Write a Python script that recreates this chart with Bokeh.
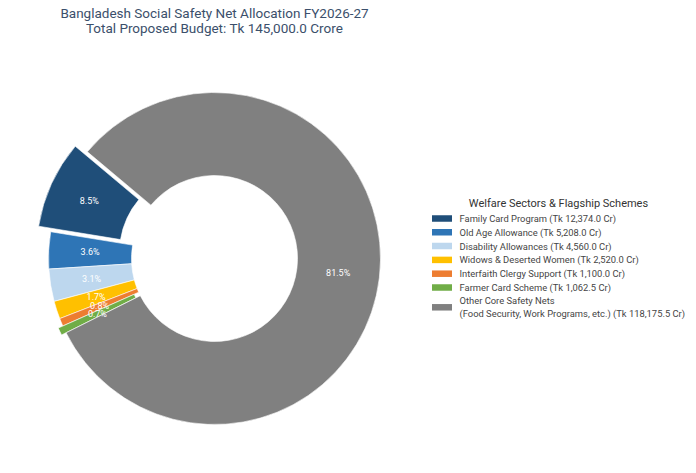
import numpy as np
from bokeh.plotting import figure
from bokeh.models import Range1d, ColumnDataSource
from bokeh.core.properties import value
from bokeh.embed import file_html
from bokeh.resources import INLINE

# Allocation data (Tk crore)
schemes = [
    "Family Card Program",
    "Old Age Allowance",
    "Disability Allowances",
    "Widows & Deserted Women",
    "Interfaith Clergy Support",
    "Farmer Card Scheme",
    "Other Core Safety Nets",
]
amounts = [12374.0, 5208.0, 4560.0, 2520.0, 1100.0, 1062.5, 118175.5]
colors = ["#1f4e79", "#2e75b6", "#bdd7ee", "#ffc000", "#ed7d31", "#70ad47", "#808080"]
other_note = "(Food Security, Work Programs, etc.)"

W, H = 696, 473
CX, CY = 214, H - 258          # donut centre
R_OUT, R_IN = 166, 83          # ring radii
START_DEG = 140                # first slice starts here, counter-clockwise
EXPLODE = [0.08, 0, 0, 0, 0, 0.03, 0]   # pull-out per slice (fraction of radius)
PCT_DIST = 0.75                # percentage label radius (fraction of radius)

font = value("Roboto")

p = figure(width=W, height=H, x_range=Range1d(0, W), y_range=Range1d(0, H),
           output_backend="svg", toolbar_location=None, min_border=0)
p.axis.visible = False
p.grid.visible = False
p.outline_line_color = None
p.background_fill_color = "white"

vals = np.array(amounts)
total = vals.sum()
frac = vals / total
cum = np.concatenate([[0], np.cumsum(frac)])
start = np.deg2rad(START_DEG + 360 * cum[:-1])
end = np.deg2rad(START_DEG + 360 * cum[1:])
mid = (start + end) / 2
pull = np.array(EXPLODE) * R_OUT
cx = CX + pull * np.cos(mid)
cy = CY + pull * np.sin(mid)

src = ColumnDataSource(dict(x=cx, y=cy, start=start, end=end, color=colors))
p.annular_wedge(x="x", y="y", inner_radius=R_IN, outer_radius=R_OUT,
                start_angle="start", end_angle="end", fill_color="color",
                line_color="white", line_width=0.6, source=src)

# percentage labels
lab = ColumnDataSource(dict(
    x=cx + PCT_DIST * R_OUT * np.cos(mid),
    y=cy + PCT_DIST * R_OUT * np.sin(mid),
    t=[f"{100 * f:.1f}%" for f in frac],
))
p.text(x="x", y="y", text="t", source=lab, text_color="white",
       text_font=font, text_font_size="9px", text_align="center",
       text_baseline="middle")

# title
p.text(x=[CX], y=[H - 12], text=["Bangladesh Social Safety Net Allocation FY2026-27"],
       text_font=font, text_font_size="13.5px", text_color="#3b4f6b",
       text_align="center", text_baseline="middle")
p.text(x=[CX], y=[H - 27], text=[f"Total Proposed Budget: Tk {total:,.1f} Crore"],
       text_font=font, text_font_size="13.5px", text_color="#3b4f6b",
       text_align="center", text_baseline="middle")

# legend
LX, LY0, LSTEP = 441.5, H - 218, 13.8
p.text(x=[558], y=[H - 203], text=["Welfare Sectors & Flagship Schemes"],
       text_font=font, text_font_size="11px", text_color="#333333",
       text_align="center", text_baseline="middle")
n = len(schemes)
row_y = [LY0 - i * LSTEP for i in range(n - 1)] + [LY0 - (n - 1) * LSTEP - 6]
p.rect(x=[LX] * n, y=row_y, width=20, height=6.5, fill_color=colors, line_color=None)
labels = [f"{s} (Tk {v:,.1f} Cr)" for s, v in zip(schemes[:-1], amounts[:-1])]
p.text(x=[459] * (n - 1), y=row_y[:-1], text=labels, text_font=font,
       text_font_size="9.4px", text_color="#454545", text_baseline="middle")
p.text(x=[459, 459], y=[row_y[-1] + 6.5, row_y[-1] - 6.5],
       text=[schemes[-1], f"{other_note} (Tk {amounts[-1]:,.1f} Cr)"],
       text_font=font, text_font_size="9.4px", text_color="#454545",
       text_baseline="middle")

open("out.html", "w").write(file_html(p, INLINE))
